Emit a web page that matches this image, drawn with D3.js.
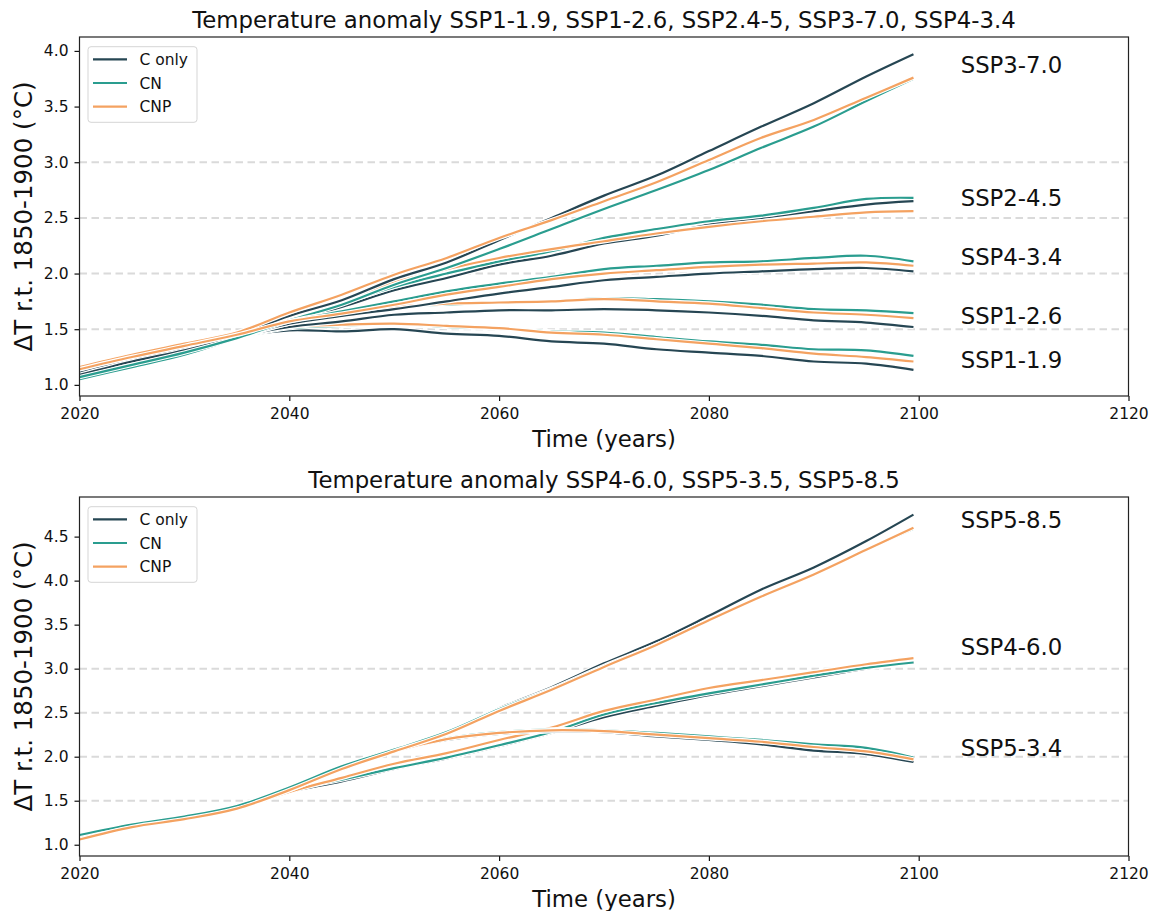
<!DOCTYPE html>
<html>
<head>
<meta charset="utf-8">
<script src="https://cdn.jsdelivr.net/npm/d3@7"></script>
<style>
    body { margin: 0; background: #fff; }
    svg { font-family: "DejaVu Sans", sans-serif; }
</style>
</head>
<body>
<svg id="chart" width="1151" height="911"></svg>
<script>
(function() {
    // data
    var years = [2020, 2025, 2030, 2035, 2040, 2045, 2050, 2055, 2060, 2065, 2070, 2075, 2080, 2085, 2090, 2095, 2099.5];
    var xTicks = [2020, 2040, 2060, 2080, 2100, 2120];
    var models = ['C only', 'CN', 'CNP'];
    var gridValues = [1.5, 2.0, 2.5, 3.0];

    // top panel
    var ssp119C   = [1.10, 1.21, 1.31, 1.43, 1.49, 1.48, 1.50, 1.46, 1.44, 1.39, 1.37, 1.32, 1.29, 1.26, 1.21, 1.19, 1.135];
    var ssp119CN  = [1.06, 1.17, 1.28, 1.42, 1.51, 1.53, 1.55, 1.52, 1.51, 1.48, 1.47, 1.43, 1.39, 1.36, 1.32, 1.31, 1.26];
    var ssp119CNP = [1.14, 1.25, 1.35, 1.44, 1.52, 1.54, 1.55, 1.53, 1.51, 1.47, 1.45, 1.41, 1.37, 1.33, 1.28, 1.25, 1.21];

    var ssp126C   = [1.09, 1.21, 1.30, 1.43, 1.52, 1.57, 1.63, 1.65, 1.67, 1.67, 1.68, 1.67, 1.65, 1.62, 1.58, 1.56, 1.52];
    var ssp126CN  = [1.07, 1.18, 1.29, 1.42, 1.55, 1.62, 1.70, 1.72, 1.74, 1.75, 1.78, 1.77, 1.75, 1.72, 1.68, 1.67, 1.645];
    var ssp126CNP = [1.15, 1.26, 1.36, 1.45, 1.56, 1.63, 1.70, 1.73, 1.74, 1.75, 1.77, 1.75, 1.73, 1.69, 1.65, 1.63, 1.60];

    var ssp245C   = [1.10, 1.22, 1.31, 1.44, 1.58, 1.70, 1.85, 1.96, 2.08, 2.16, 2.27, 2.34, 2.44, 2.50, 2.56, 2.62, 2.65];
    var ssp245CN  = [1.08, 1.19, 1.30, 1.43, 1.58, 1.73, 1.88, 2.00, 2.11, 2.20, 2.32, 2.40, 2.47, 2.52, 2.59, 2.67, 2.68];
    var ssp245CNP = [1.13, 1.25, 1.35, 1.46, 1.62, 1.76, 1.92, 2.04, 2.14, 2.22, 2.29, 2.36, 2.42, 2.47, 2.51, 2.55, 2.56];

    var ssp370C   = [1.11, 1.22, 1.32, 1.45, 1.62, 1.76, 1.95, 2.10, 2.30, 2.50, 2.70, 2.88, 3.10, 3.32, 3.53, 3.77, 3.97];
    var ssp370CN  = [1.05, 1.16, 1.27, 1.42, 1.58, 1.72, 1.90, 2.05, 2.22, 2.40, 2.58, 2.75, 2.93, 3.13, 3.32, 3.55, 3.75];
    var ssp370CNP = [1.16, 1.27, 1.37, 1.47, 1.65, 1.81, 1.99, 2.14, 2.32, 2.48, 2.65, 2.82, 3.02, 3.22, 3.38, 3.58, 3.76];

    var ssp434C   = [1.09, 1.21, 1.31, 1.43, 1.55, 1.62, 1.68, 1.75, 1.82, 1.88, 1.94, 1.97, 2.00, 2.02, 2.04, 2.05, 2.02];
    var ssp434CN  = [1.07, 1.18, 1.29, 1.42, 1.57, 1.66, 1.75, 1.84, 1.91, 1.97, 2.04, 2.07, 2.10, 2.11, 2.14, 2.16, 2.11];
    var ssp434CNP = [1.14, 1.25, 1.35, 1.45, 1.57, 1.64, 1.72, 1.81, 1.88, 1.95, 2.00, 2.03, 2.06, 2.08, 2.09, 2.10, 2.07];

    // bottom panel
    var ssp460C   = [1.10, 1.22, 1.31, 1.44, 1.60, 1.72, 1.86, 1.98, 2.12, 2.27, 2.45, 2.58, 2.70, 2.80, 2.90, 3.00, 3.07];
    var ssp460CN  = [1.11, 1.23, 1.32, 1.44, 1.62, 1.74, 1.87, 1.99, 2.13, 2.28, 2.48, 2.61, 2.72, 2.82, 2.92, 3.01, 3.07];
    var ssp460CNP = [1.06, 1.20, 1.29, 1.41, 1.60, 1.76, 1.92, 2.04, 2.19, 2.33, 2.52, 2.65, 2.78, 2.87, 2.96, 3.05, 3.12];

    var ssp534C   = [1.10, 1.22, 1.31, 1.44, 1.63, 1.86, 2.06, 2.19, 2.26, 2.29, 2.28, 2.23, 2.19, 2.14, 2.07, 2.03, 1.94];
    var ssp534CN  = [1.11, 1.23, 1.32, 1.44, 1.65, 1.89, 2.08, 2.21, 2.28, 2.31, 2.30, 2.27, 2.23, 2.19, 2.14, 2.10, 1.99];
    var ssp534CNP = [1.06, 1.20, 1.29, 1.41, 1.62, 1.85, 2.06, 2.20, 2.27, 2.30, 2.29, 2.25, 2.21, 2.17, 2.11, 2.06, 1.97];

    var ssp585C   = [1.10, 1.22, 1.31, 1.44, 1.63, 1.86, 2.07, 2.28, 2.55, 2.79, 3.06, 3.31, 3.60, 3.90, 4.15, 4.45, 4.75];
    var ssp585CN  = [1.11, 1.23, 1.32, 1.44, 1.65, 1.89, 2.08, 2.28, 2.54, 2.77, 3.03, 3.27, 3.55, 3.82, 4.07, 4.35, 4.59];
    var ssp585CNP = [1.06, 1.20, 1.29, 1.41, 1.62, 1.86, 2.06, 2.26, 2.52, 2.76, 3.02, 3.27, 3.55, 3.82, 4.07, 4.35, 4.60];

    var topYTicks = [1.0, 1.5, 2.0, 2.5, 3.0, 3.5, 4.0];
    var bottomYTicks = [1.0, 1.5, 2.0, 2.5, 3.0, 3.5, 4.0, 4.5];

    var topNames = ['SSP1-1.9', 'SSP1-2.6', 'SSP2-4.5', 'SSP3-7.0', 'SSP4-3.4'];
    var topLabelY = [1.15, 1.55, 2.61, 3.80, 2.08];
    var bottomNames = ['SSP4-6.0', 'SSP5-3.4', 'SSP5-8.5'];
    var bottomLabelY = [3.15, 2.01, 4.60];

    var COLORS = ['#264653', '#2a9d8f', '#f4a261'];
    var LEFT = 79.5, RIGHT = 1128.5;

    var svg = d3.select('#chart');

    var x = d3.scaleLinear()
        .domain([2020, 2120])
        .range([LEFT, RIGHT]);

    var line = function(y) {
        return d3.line()
            .x(function(d, i) { return x(years[i]); })
            .y(function(d) { return y(d); })
            .curve(d3.curveCatmullRom);
    };

    var drawPanel = function(p) {
        var y = d3.scaleLinear()
            .domain(p.yDomain)
            .range([p.bottom, p.top]);

        var g = svg.append('g');

        // grid
        g.selectAll('.grid')
            .data(gridValues)
            .enter().append('line')
                .attr('x1', LEFT)
                .attr('x2', RIGHT)
                .attr('y1', function(d) { return y(d); })
                .attr('y2', function(d) { return y(d); })
                .attr('stroke', '#dadada')
                .attr('stroke-width', 2)
                .attr('stroke-dasharray', '7.5,4.5');

        // lines, each with a white halo
        p.series.forEach(function(s) {
            s.forEach(function(values, m) {
                g.append('path')
                    .attr('d', line(y)(values))
                    .attr('fill', 'none')
                    .attr('stroke', '#fff')
                    .attr('stroke-width', 4.5)
                    .attr('stroke-linejoin', 'round');
                g.append('path')
                    .attr('d', line(y)(values))
                    .attr('fill', 'none')
                    .attr('stroke', COLORS[m])
                    .attr('stroke-width', 2.2)
                    .attr('stroke-linejoin', 'round');
            });
        });

        // scenario labels
        g.selectAll('.lab')
            .data(p.names)
            .enter().append('text')
                .attr('x', x(2104))
                .attr('y', function(d, i) { return y(p.labelY[i]); })
                .attr('font-size', '22.8px')
                .attr('fill', '#111')
                .text(function(d) { return d; });

        // axes
        var xAxis = g.append('g')
            .attr('transform', 'translate(0,' + p.bottom + ')')
            .call(d3.axisBottom(x).tickValues(xTicks).tickFormat(d3.format('d')).tickSize(5).tickPadding(7));
        var yAxis = g.append('g')
            .attr('transform', 'translate(' + LEFT + ',0)')
            .call(d3.axisLeft(y).tickValues(p.yTicks).tickFormat(d3.format('.1f')).tickSize(5).tickPadding(6));

        [xAxis, yAxis].forEach(function(a) {
            a.select('.domain').remove();
            a.selectAll('text').attr('font-size', '15.5px').attr('font-family', '"DejaVu Sans", sans-serif').attr('fill', '#111');
            a.selectAll('line').attr('stroke', '#111').attr('stroke-width', 1.2);
        });

        // frame
        g.append('rect')
            .attr('x', LEFT)
            .attr('y', p.top)
            .attr('width', RIGHT - LEFT)
            .attr('height', p.bottom - p.top)
            .attr('fill', 'none')
            .attr('stroke', '#222')
            .attr('stroke-width', 1.2);

        // titles
        g.append('text')
            .attr('x', (LEFT + RIGHT) / 2)
            .attr('y', p.top - 9)
            .attr('text-anchor', 'middle')
            .attr('font-size', '22.8px')
            .attr('fill', '#111')
            .text(p.title);

        g.append('text')
            .attr('x', (LEFT + RIGHT) / 2)
            .attr('y', p.bottom + 51)
            .attr('text-anchor', 'middle')
            .attr('font-size', '22.8px')
            .attr('fill', '#111')
            .text('Time (years)');

        g.append('text')
            .attr('transform', 'translate(32,' + (p.top + p.bottom) / 2 + ') rotate(-90)')
            .attr('text-anchor', 'middle')
            .attr('font-size', '24.5px')
            .attr('fill', '#111')
            .text('ΔT r.t. 1850-1900 (°C)');

        // legend
        var lg = g.append('g')
            .attr('transform', 'translate(88,' + (p.top + 9.7) + ')');
        lg.append('rect')
            .attr('width', 109)
            .attr('height', 75.6)
            .attr('rx', 3)
            .attr('fill', '#fff')
            .attr('fill-opacity', 0.8)
            .attr('stroke', '#d5d5d5')
            .attr('stroke-width', 1);
        models.forEach(function(name, i) {
            var ly = 12.6 + i * 23.7;
            lg.append('line')
                .attr('x1', 5)
                .attr('x2', 39)
                .attr('y1', ly)
                .attr('y2', ly)
                .attr('stroke', COLORS[i])
                .attr('stroke-width', 2.2);
            lg.append('text')
                .attr('x', 51.5)
                .attr('y', ly)
                .attr('dy', '0.36em')
                .attr('font-size', '15.5px')
                .attr('fill', '#111')
                .text(name);
        });
    };

    drawPanel({
        title: 'Temperature anomaly SSP1-1.9, SSP1-2.6, SSP2.4-5, SSP3-7.0, SSP4-3.4',
        top: 37, bottom: 396,
        yDomain: [0.9, 4.125],
        yTicks: topYTicks,
        names: topNames,
        labelY: topLabelY,
        series: [
            [ssp119C, ssp119CN, ssp119CNP],
            [ssp126C, ssp126CN, ssp126CNP],
            [ssp245C, ssp245CN, ssp245CNP],
            [ssp370C, ssp370CN, ssp370CNP],
            [ssp434C, ssp434CN, ssp434CNP]
        ]
    });

    drawPanel({
        title: 'Temperature anomaly SSP4-6.0, SSP5-3.5, SSP5-8.5',
        top: 497, bottom: 856,
        yDomain: [0.872, 4.95],
        yTicks: bottomYTicks,
        names: bottomNames,
        labelY: bottomLabelY,
        series: [
            [ssp460C, ssp460CN, ssp460CNP],
            [ssp534C, ssp534CN, ssp534CNP],
            [ssp585C, ssp585CN, ssp585CNP]
        ]
    });
}());
</script>
</body>
</html>
